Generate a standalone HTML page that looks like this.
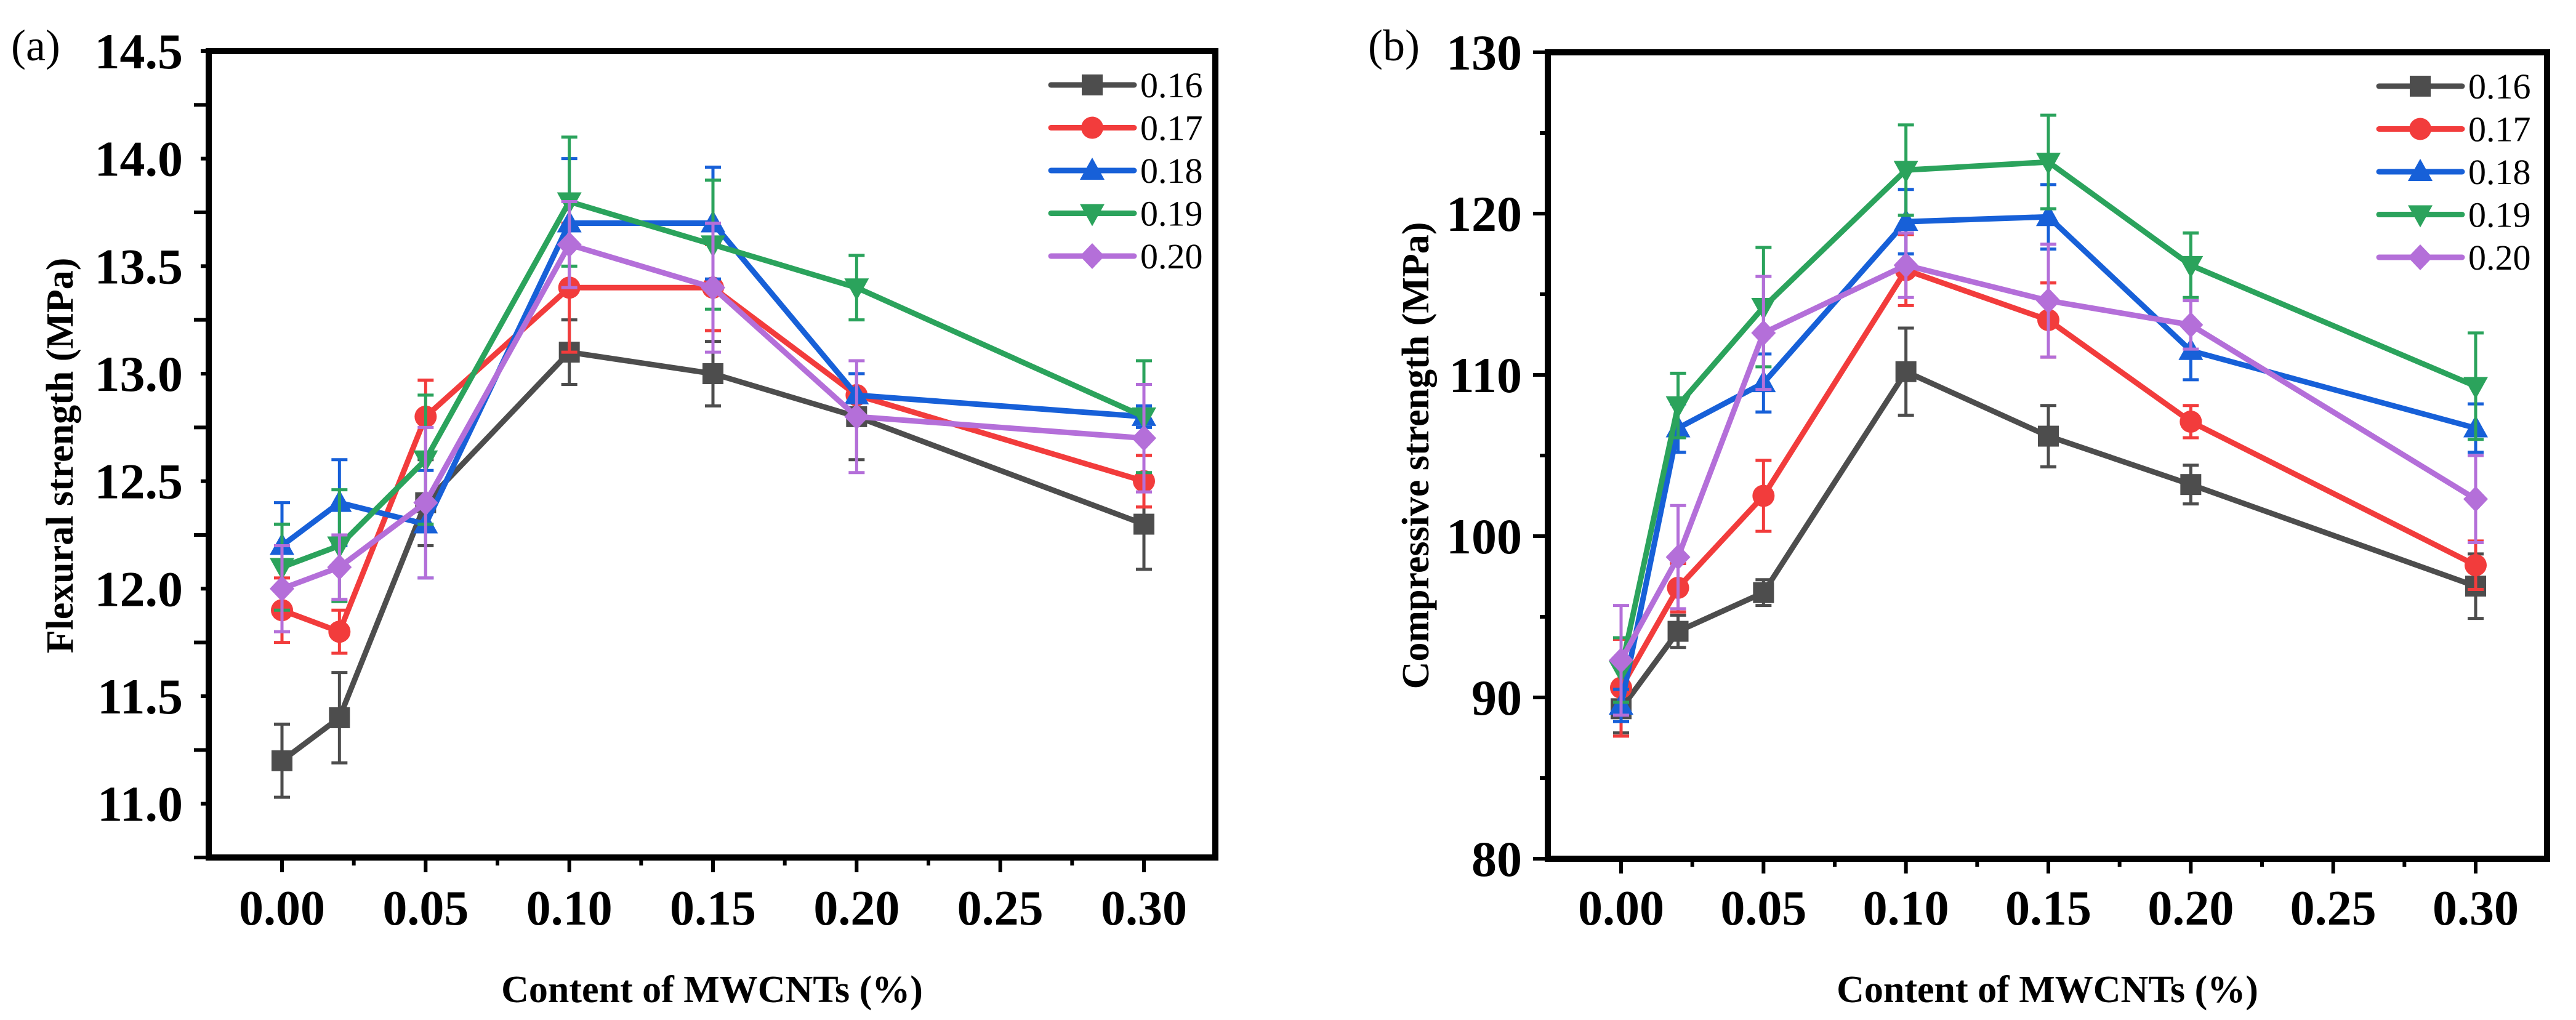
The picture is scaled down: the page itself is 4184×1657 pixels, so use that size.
<!DOCTYPE html>
<html><head><meta charset="utf-8"><style>
html,body{margin:0;padding:0;background:#fff;}
svg{display:block;}
svg text{font-family:"Liberation Serif","Times New Roman",serif;}
</style></head><body>
<svg id="fig" width="4184" height="1657" viewBox="0 0 4184 1657" xmlns="http://www.w3.org/2000/svg" font-family="Liberation Serif, serif">
<rect x="0" y="0" width="4184" height="1657" fill="#fff"/>
</svg>
<script>
const xValues = [0, 0.02, 0.05, 0.10, 0.15, 0.20, 0.30];
const seriesNames = ['0.16','0.17','0.18','0.19','0.20'];
const flexural016 = [11.2, 11.4, 12.4, 13.1, 13.0, 12.8, 12.3];
const flexural017 = [11.9, 11.8, 12.8, 13.4, 13.4, 12.9, 12.5];
const flexural018 = [12.2, 12.4, 12.3, 13.7, 13.7, 12.9, 12.8];
const flexural019 = [12.1, 12.2, 12.6, 13.8, 13.6, 13.4, 12.8];
const flexural020 = [12.0, 12.1, 12.4, 13.6, 13.4, 12.8, 12.7];
const flexErr016 = [0.17, 0.21, 0.2, 0.15, 0.15, 0.2, 0.21];
const flexErr017 = [0.15, 0.1, 0.17, 0.3, 0.2, 0.1, 0.12];
const flexErr018 = [0.2, 0.2, 0.25, 0.3, 0.26, 0.1, 0.05];
const flexErr019 = [0.2, 0.26, 0.3, 0.3, 0.3, 0.15, 0.26];
const flexErr020 = [0.2, 0.15, 0.35, 0.2, 0.3, 0.26, 0.25];
const comp016 = [89.3, 94.1, 96.5, 110.2, 106.2, 103.2, 96.9];
const comp017 = [90.6, 96.8, 102.5, 116.5, 113.4, 107.1, 98.2];
const comp018 = [89.5, 106.7, 109.5, 119.5, 119.8, 111.5, 106.7];
const comp019 = [91.7, 108.1, 114.2, 122.7, 123.2, 116.8, 109.3];
const comp020 = [92.3, 98.7, 112.6, 116.8, 114.6, 113.1, 102.3];
const compErr016 = [1.5, 1, 0.8, 2.7, 1.9, 1.2, 2];
const compErr017 = [3, 1.5, 2.2, 2.2, 2.3, 1, 1.5];
const compErr018 = [1, 1.5, 1.8, 2, 2, 1.8, 1.5];
const compErr019 = [2, 2, 3.7, 2.8, 2.9, 2, 3.3];
const compErr020 = [3.4, 3.2, 3.5, 2, 3.5, 1.5, 2.7];
const xTickLabels = ['0.00','0.05','0.10','0.15','0.20','0.25','0.30'];
const flexTickLabels = ['11.0','11.5','12.0','12.5','13.0','13.5','14.0','14.5'];
const compTickLabels = ['80','90','100','110','120','130'];

const colors = ['#4d4d4d','#f23c3c','#1760d8','#2ba35c','#b46fd9'];
const markers = ['square','circle','up','down','diamond'];
const NS = 'http://www.w3.org/2000/svg';
const FONT = '"Liberation Serif", "Times New Roman", serif';
const svg = document.getElementById('fig');
function el(tag, attrs, parent){ const e=document.createElementNS(NS,tag); for(const k in attrs) e.setAttribute(k,attrs[k]); if(tag==='text') e.setAttribute('font-family',FONT); (parent||svg).appendChild(e); return e; }

function marker(g, type, cx, cy, color){
  const r=17; let m;
  if(type==='square') m=el('rect',{x:cx-r,y:cy-r,width:2*r,height:2*r,fill:color},g);
  else if(type==='circle') m=el('circle',{cx:cx,cy:cy,r:r+1,fill:color},g);
  else if(type==='up') m=el('polygon',{points:`${cx},${cy-r-4} ${cx+r+3},${cy+r-2} ${cx-r-3},${cy+r-2}`,fill:color},g);
  else if(type==='down') m=el('polygon',{points:`${cx},${cy+r+4} ${cx+r+3},${cy-r+2} ${cx-r-3},${cy-r+2}`,fill:color},g);
  else m=el('polygon',{points:`${cx},${cy-r-4} ${cx+r+3},${cy} ${cx},${cy+r+4} ${cx-r-3},${cy}`,fill:color},g);
  return m;
}

function panel(cfg){
  const {L,R,T,B,x0,x30,ymin,ymax,yStep,yMinor,yLabels,series,errs,prefix,ylab,letter,letterX,legX} = cfg;
  const X = v => x0 + (x30-x0)*v/0.30;
  const Y = v => B - (B-T)*(v-ymin)/(ymax-ymin);
  const g = el('g',{});
  
  
  for(let i=0;i<=12;i++){
    const v=i*0.025, x=X(v); if(x<L) continue;
    const major = i%2===0;
    const t=el('line',{x1:x,y1:B,x2:x,y2:B+(major?24:13),stroke:'#000','stroke-width':6},g);
    
    
  }
  xTickLabels.forEach((lab,i)=>{
    const t=el('text',{x:X(i*0.05),y:1502,'text-anchor':'middle','font-size':80,'font-weight':'bold'},g);
    t.textContent=lab;
    
    
  });
  for(let v=ymin; v<=ymax+1e-9; v+=yMinor){
    const y=Y(v);
    const major = Math.abs(((v-ymin)/yStep)-Math.round((v-ymin)/yStep))<1e-6;
    const t=el('line',{x1:L,y1:y,x2:L-(major?24:13),y2:y,stroke:'#000','stroke-width':6},g);
    
    
  }
  yLabels.forEach(lab=>{
    const t=el('text',{x:L-42,y:Y(parseFloat(lab))+28,'text-anchor':'end','font-size':82,'font-weight':'bold'},g);
    t.textContent=lab;
    
    
  });
  series.forEach((vals,s)=>{
    const sg=el('g',{},g);
    
    
    const err=errs[s];
    vals.forEach((v,i)=>{
      const x=X(xValues[i]), y1=Y(v+err[i]), y2=Y(v-err[i]);
      const e=el('path',{d:`M${x},${y1}V${y2}M${x-13},${y1}H${x+13}M${x-13},${y2}H${x+13}`,stroke:colors[s],'stroke-width':5,fill:'none'},sg);
      
      
    });
    const pl=el('polyline',{points:vals.map((v,i)=>X(xValues[i])+','+Y(v)).join(' '),fill:'none',stroke:colors[s],'stroke-width':9,'stroke-linejoin':'round'},sg);
    
    
    vals.forEach((v,i)=>{
      const m=marker(sg,markers[s],X(xValues[i]),Y(v),colors[s]);
      
      
    });
  });
  const fr=el('rect',{x:L,y:T,width:R-L,height:B-T,fill:'none',stroke:'#000','stroke-width':10},g);
  
  
  const lg=el('g',{},g);
  
  
  seriesNames.forEach((n,s)=>{
    const y=T+55+s*69.5;
    const e=el('g',{},lg);
    
    
    el('line',{x1:legX,y1:y,x2:legX+135,y2:y,stroke:colors[s],'stroke-width':9,'stroke-linecap':'round'},e);
    marker(e,markers[s],legX+67,y,colors[s]);
    const t=el('text',{x:legX+145,y:y+20,'font-size':58},e);
    t.textContent=n;
  });
  const yt=el('text',{x:0,y:0,'text-anchor':'middle','font-size':62,'font-weight':'bold',transform:`translate(${cfg.ytX},740) rotate(-90)`},g);
  yt.textContent=ylab;
  
  
  const xt=el('text',{x:(L+R)/2,y:1628,'text-anchor':'middle','font-size':62,'font-weight':'bold'},g);
  xt.textContent='Content of MWCNTs (%)';
  
  
  const pl=el('text',{x:letterX,y:98,'font-size':72},g);
  pl.textContent=letter;
  
  
}

panel({L:339,R:1974,T:83,B:1393,x0:458,x30:1858,ymin:10.75,ymax:14.5,yStep:0.5,yMinor:0.25,
  yLabels:flexTickLabels,series:[flexural016,flexural017,flexural018,flexural019,flexural020],
  errs:[flexErr016,flexErr017,flexErr018,flexErr019,flexErr020],prefix:'flexural',
  ylab:'Flexural strength (MPa)',letter:'(a)',letterX:18,legX:1707,ytX:118});
panel({L:2514,R:4137,T:85,B:1395,x0:2633,x30:4021,ymin:80,ymax:130,yStep:10,yMinor:5,
  yLabels:compTickLabels,series:[comp016,comp017,comp018,comp019,comp020],
  errs:[compErr016,compErr017,compErr018,compErr019,compErr020],prefix:'compressive',
  ylab:'Compressive strength (MPa)',letter:'(b)',letterX:2222,legX:3864,ytX:2320});
</script>
</body></html>
